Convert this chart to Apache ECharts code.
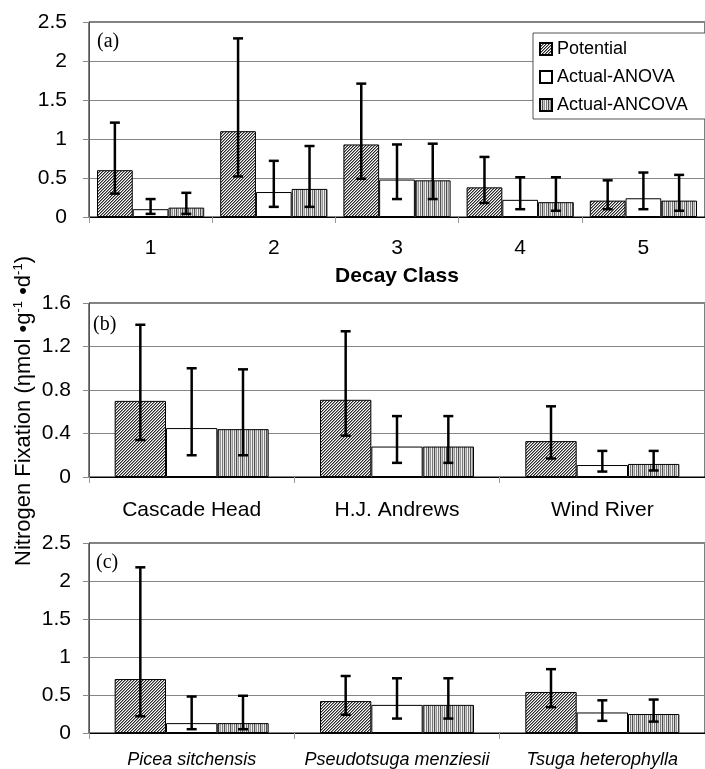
<!DOCTYPE html>
<html>
<head>
<meta charset="utf-8">
<script src="https://cdn.jsdelivr.net/npm/echarts@6/dist/echarts.min.js"></script>
<style>
html,body{margin:0;padding:0;background:#fff;}
#chart{width:705px;height:769px;}
</style>
</head>
<body>
<div id="chart"></div>
<script>
// ---------- data ----------
const seriesNames = ['Potential', 'Actual-ANOVA', 'Actual-ANCOVA'];

const decayClasses = ['1', '2', '3', '4', '5'];
const aPotential = [0.60, 1.10, 0.93, 0.38, 0.21];
const aPotentialLo = [0.30, 0.52, 0.49, 0.18, 0.10];
const aPotentialHi = [1.21, 2.29, 1.71, 0.77, 0.47];
const aAnova = [0.10, 0.32, 0.48, 0.22, 0.24];
const aAnovaLo = [0.04, 0.13, 0.23, 0.10, 0.10];
const aAnovaHi = [0.23, 0.72, 0.93, 0.51, 0.57];
const aAncova = [0.12, 0.36, 0.47, 0.19, 0.21];
const aAncovaLo = [0.04, 0.13, 0.23, 0.08, 0.08];
const aAncovaHi = [0.31, 0.91, 0.94, 0.51, 0.54];

const sites = ['Cascade Head', 'H.J. Andrews', 'Wind River'];
const bPotential = [0.70, 0.71, 0.33];
const bPotentialLo = [0.34, 0.38, 0.17];
const bPotentialHi = [1.40, 1.34, 0.65];
const bAnova = [0.45, 0.28, 0.11];
const bAnovaLo = [0.20, 0.13, 0.05];
const bAnovaHi = [1.00, 0.56, 0.24];
const bAncova = [0.44, 0.28, 0.12];
const bAncovaLo = [0.20, 0.13, 0.06];
const bAncovaHi = [0.99, 0.56, 0.24];

const species = ['Picea sitchensis', 'Pseudotsuga menziesii', 'Tsuga heterophylla'];
const cPotential = [0.71, 0.42, 0.54];
const cPotentialLo = [0.22, 0.24, 0.34];
const cPotentialHi = [2.18, 0.75, 0.84];
const cAnova = [0.13, 0.37, 0.27];
const cAnovaLo = [0.05, 0.19, 0.16];
const cAnovaHi = [0.48, 0.72, 0.43];
const cAncova = [0.13, 0.37, 0.25];
const cAncovaLo = [0.05, 0.19, 0.15];
const cAncovaHi = [0.49, 0.72, 0.44];

const aTicks = ['0', '0.5', '1', '1.5', '2', '2.5'];
const bTicks = ['0', '0.4', '0.8', '1.2', '1.6'];
const cTicks = ['0', '0.5', '1', '1.5', '2', '2.5'];

const xTitleA = 'Decay Class';

// ---------- patterns ----------
function hatchPattern() {
  const c = document.createElement('canvas');
  c.width = 6; c.height = 6;
  const ctx = c.getContext('2d');
  const img = ctx.createImageData(6, 6);
  for (let y = 0; y < 6; y++) for (let x = 0; x < 6; x++) {
    const k = (x + y) % 3;
    const v = k === 0 ? 40 : (k === 1 ? 150 : 255);
    const i = (y * 6 + x) * 4;
    img.data[i] = img.data[i + 1] = img.data[i + 2] = v; img.data[i + 3] = 255;
  }
  ctx.putImageData(img, 0, 0);
  return { image: c, repeat: 'repeat' };
}
function stripePattern() {
  const cols = [120, 225, 80, 200, 150, 240];
  const c = document.createElement('canvas');
  c.width = cols.length; c.height = 4;
  const ctx = c.getContext('2d');
  const img = ctx.createImageData(cols.length, 4);
  for (let y = 0; y < 4; y++) for (let x = 0; x < cols.length; x++) {
    const i = (y * cols.length + x) * 4;
    img.data[i] = img.data[i + 1] = img.data[i + 2] = cols[x]; img.data[i + 3] = 255;
  }
  ctx.putImageData(img, 0, 0);
  return { image: c, repeat: 'repeat' };
}
const fills = [hatchPattern(), '#ffffff', stripePattern()];

// ---------- layout ----------
const FONT = '"Liberation Sans", Arial, Helvetica, sans-serif';
const panels = [
  { cats: decayClasses, vals: [aPotential, aAnova, aAncova], lo: [aPotentialLo, aAnovaLo, aAncovaLo], hi: [aPotentialHi, aAnovaHi, aAncovaHi],
    ticks: aTicks, max: 2.5, interval: 0.5, gap: 0.13, top: 22, height: 195, labelSize: 21, italic: false, labelMargin: 21, yMargin: 22 },
  { cats: sites, vals: [bPotential, bAnova, bAncova], lo: [bPotentialLo, bAnovaLo, bAncovaLo], hi: [bPotentialHi, bAnovaHi, bAncovaHi],
    ticks: bTicks, max: 1.6, interval: 0.4, gap: 0.25, top: 303, height: 174, labelSize: 21, italic: false, labelMargin: 23, yMargin: 18 },
  { cats: species, vals: [cPotential, cAnova, cAncova], lo: [cPotentialLo, cAnovaLo, cAncovaLo], hi: [cPotentialHi, cAnovaHi, cAncovaHi],
    ticks: cTicks, max: 2.5, interval: 0.5, gap: 0.25, top: 543, height: 193, labelSize: 18, italic: true, labelMargin: 18, yMargin: 18 }
];

const grid = [], xAxis = [], yAxis = [], series = [];
panels.forEach((p, pi) => {
  grid.push({ left: 89, width: 623, top: p.top, height: p.height, show: true, borderColor: '#000', borderWidth: 1, backgroundColor: 'transparent' });
  xAxis.push({
    type: 'category', gridIndex: pi, data: p.cats,
    axisLine: { show: true, lineStyle: { color: '#000', width: 1 } },
    axisTick: { show: true, length: 6, interval: 0, lineStyle: { color: '#999' } },
    axisLabel: { interval: 0, margin: p.labelMargin, color: '#000', fontFamily: FONT, fontSize: p.labelSize, fontStyle: p.italic ? 'italic' : 'normal' },
    name: pi === 0 ? xTitleA : '', nameLocation: 'middle', nameGap: 49,
    nameTextStyle: { color: '#000', fontFamily: FONT, fontSize: 21, fontWeight: 'bold' }
  });
  yAxis.push({
    type: 'value', gridIndex: pi, min: 0, max: p.max, interval: p.interval,
    axisLine: { show: true, lineStyle: { color: '#555', width: 1 } },
    axisTick: { show: true, length: 6, lineStyle: { color: '#888' } },
    axisLabel: { margin: p.yMargin, color: '#000', fontFamily: FONT, fontSize: 21,
      formatter: (v) => p.ticks[Math.round(v / p.interval)] },
    splitLine: { show: true, lineStyle: { color: '#858585', width: 1 } }
  });
  for (let s = 0; s < 3; s++) {
    series.push({
      type: 'bar', name: seriesNames[s], xAxisIndex: pi, yAxisIndex: pi,
      data: p.vals[s], barGap: '0%', barCategoryGap: (p.gap * 100) + '%',
      itemStyle: { color: fills[s], borderColor: '#000', borderWidth: 1 },
      emphasis: { disabled: true }, z: 2
    });
  }
  const errData = [];
  for (let s = 0; s < 3; s++) for (let c = 0; c < p.cats.length; c++) errData.push([c, p.lo[s][c], p.hi[s][c], s]);
  series.push({
    type: 'custom', xAxisIndex: pi, yAxisIndex: pi, data: errData, z: 10, clip: false, silent: true,
    encode: { x: 0, y: [1, 2] },
    renderItem: function (params, api) {
      const ci = api.value(0), lo = api.value(1), hi = api.value(2), si = api.value(3);
      const band = api.size([1, 0])[0];
      const bw = band * (1 - p.gap) / 3;
      const a = api.coord([ci, lo]);
      const b = api.coord([ci, hi]);
      const x = a[0] + (si - 1) * bw;
      const h = 5;
      const st = { stroke: '#000', lineWidth: 2.5 };
      return { type: 'group', children: [
        { type: 'line', shape: { x1: x, y1: a[1], x2: x, y2: b[1] }, style: st },
        { type: 'line', shape: { x1: x - h, y1: b[1], x2: x + h, y2: b[1] }, style: st },
        { type: 'line', shape: { x1: x - h, y1: a[1], x2: x + h, y2: a[1] }, style: st }
      ] };
    }
  });
});

const option = {
  backgroundColor: '#fff',
  animation: false,
  grid, xAxis, yAxis, series,
  legend: {
    data: seriesNames, orient: 'vertical', left: 533, top: 33,
    padding: [7, 20, 5, 6], itemGap: 10, itemWidth: 12, itemHeight: 12,
    borderColor: '#555', borderWidth: 1, backgroundColor: '#fff', borderRadius: 0,
    icon: 'rect', selectedMode: false,
    textStyle: { color: '#000', fontFamily: FONT, fontSize: 18, lineHeight: 18 },
    z: 20
  },
  graphic: [
    { type: 'text', x: 97, y: 42, style: { text: '(a)', font: '20px "Liberation Serif", "Times New Roman", serif', fill: '#000', verticalAlign: 'middle' } },
    { type: 'text', x: 93, y: 325, style: { text: '(b)', font: '20px "Liberation Serif", "Times New Roman", serif', fill: '#000', verticalAlign: 'middle' } },
    { type: 'text', x: 96, y: 563, style: { text: '(c)', font: '20px "Liberation Serif", "Times New Roman", serif', fill: '#000', verticalAlign: 'middle' } },
    { type: 'text', x: 24, y: 411, rotation: Math.PI / 2,
      style: {
        text: '{n|Nitrogen Fixation (ηmol •g}{s|-1}{n| •d}{s|-1}{n|)}',
        align: 'center', verticalAlign: 'middle', fill: '#000',
        rich: {
          n: { fontFamily: FONT, fontSize: 22, lineHeight: 24, fill: '#000' },
          s: { fontFamily: FONT, fontSize: 13, lineHeight: 24, verticalAlign: 'top', fill: '#000' }
        }
      }
    }
  ]
};

const chart = echarts.init(document.getElementById('chart'), null, { renderer: 'canvas' });
chart.setOption(option);
</script>
</body>
</html>
